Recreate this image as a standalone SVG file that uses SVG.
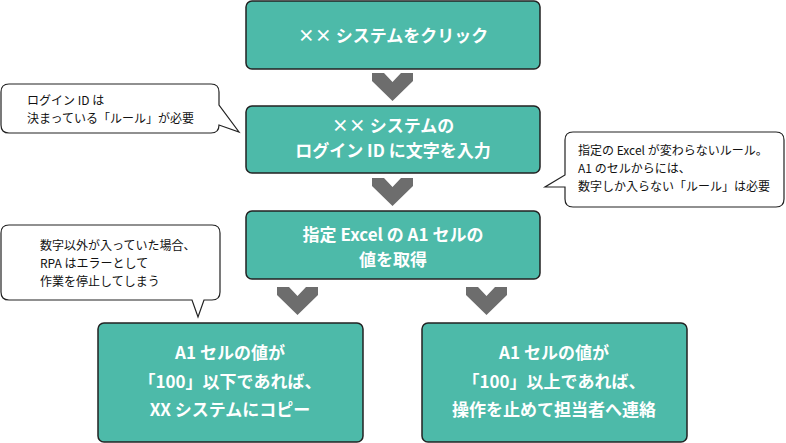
<svg xmlns="http://www.w3.org/2000/svg" width="786" height="443" viewBox="0 0 786 443">
<style>
.box{fill:#4dbaa9;stroke:#222;stroke-width:1.5}
.bt{fill:#fff;font-family:"Noto Sans CJK JP","Noto Sans",sans-serif;font-weight:bold;font-size:17px;text-anchor:middle}
.call{fill:#fff;stroke:#222;stroke-width:1.2}
.ct{fill:#111;font-family:"Noto Sans CJK JP","Noto Sans",sans-serif;font-size:12px}
.chev{fill:#6d6d6d}
</style>
<defs>
<polygon id="chev" points="0,0 12,0 20.5,9 29,0 41,0 41,8 20.5,28 0,8"/>
</defs>
<g id="connectors" class="chev">
<use href="#chev" x="372" y="73"/>
<use href="#chev" x="372" y="178"/>
<use href="#chev" x="277" y="287"/>
<use href="#chev" x="466" y="287"/>
</g>
<g id="n1">
<rect class="box" x="246" y="1" width="294" height="68" rx="6"/>
<text class="bt" x="393" y="42">×× システムをクリック</text>
</g>
<g id="n2">
<rect class="box" x="246" y="106" width="294" height="67" rx="6"/>
<text class="bt" x="393" y="132">×× システムの</text>
<text class="bt" x="393" y="157">ログイン ID に文字を入力</text>
</g>
<g id="n3">
<rect class="box" x="246" y="211" width="294" height="68" rx="6"/>
<text class="bt" x="393" y="241">指定 Excel の A1 セルの</text>
<text class="bt" x="393" y="266">値を取得</text>
</g>
<g id="n4">
<rect class="box" x="98" y="323" width="265" height="119" rx="6"/>
<text class="bt" x="230" y="359">A1 セルの値が</text>
<text class="bt" x="230" y="388">「100」以下であれば、</text>
<text class="bt" x="230" y="416">XX システムにコピー</text>
</g>
<g id="n5">
<rect class="box" x="422" y="323" width="265" height="119" rx="6"/>
<text class="bt" x="554" y="359">A1 セルの値が</text>
<text class="bt" x="554" y="388">「100」以上であれば、</text>
<text class="bt" x="554" y="416">操作を止めて担当者へ連絡</text>
</g>
<g id="c1">
<path class="call" d="M9,84 H211 Q219,84 219,92 V105 L239,132 L219,125 V125 Q219,133 211,133 H9 Q1,133 1,125 V92 Q1,84 9,84 Z"/>
<text class="ct" x="27" y="105">ログイン ID は</text>
<text class="ct" x="27" y="123">決まっている「ルール」が必要</text>
</g>
<g id="c2">
<path class="call" d="M573,132 H776 Q784,132 784,140 V199 Q784,207 776,207 H573 Q565,207 565,199 V187 H545 L565,175 V140 Q565,132 573,132 Z"/>
<text class="ct" x="578" y="155">指定の Excel が変わらないルール。</text>
<text class="ct" x="578" y="173">A1 のセルからには、</text>
<text class="ct" x="578" y="191">数字しか入らない「ルール」は必要</text>
</g>
<g id="c3">
<path class="call" d="M9,225 H212 Q220,225 220,233 V292 Q220,300 212,300 H204 L198,317 L192,300 H9 Q1,300 1,292 V233 Q1,225 9,225 Z"/>
<text class="ct" x="40" y="250">数字以外が入っていた場合、</text>
<text class="ct" x="40" y="268">RPA はエラーとして</text>
<text class="ct" x="40" y="286">作業を停止してしまう</text>
</g>
</svg>
